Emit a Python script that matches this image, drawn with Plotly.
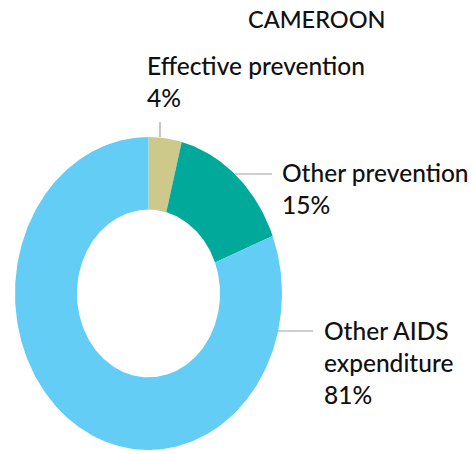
import numpy as np
import plotly.graph_objects as go

# Share of AIDS spending, Cameroon
country = "CAMEROON"
categories = ["Effective prevention", "Other prevention", "Other AIDS expenditure"]
label_text = ["Effective prevention", "Other prevention", "Other AIDS<br>expenditure"]
values = [4, 15, 81]
colors = ["#CDC98A", "#00A99A", "#64CDF6"]

W, H = 471, 454
# ellipse centre and radii in pixels; axes are scaled so the unit circle fills it
CX, CY, RX, RY = 148.5, 293.5, 133.5, 156.5
HOLE = 0.536

fig = go.Figure()

total = float(sum(values))
start = 0.0
for name, v, c in zip(categories, values, colors):
    frac0, frac1 = start / total, (start + v) / total
    n = max(int(400 * (frac1 - frac0)), 8)
    t = np.linspace(frac0, frac1, n) * 2 * np.pi
    xo, yo = np.sin(t), np.cos(t)
    xs = np.concatenate([xo, HOLE * xo[::-1], [xo[0]]])
    ys = np.concatenate([yo, HOLE * yo[::-1], [yo[0]]])
    fig.add_trace(go.Scatter(
        x=xs, y=ys, mode="lines", fill="toself", fillcolor=c,
        line=dict(width=0, color=c), name=name, hoverinfo="name",
        showlegend=False,
    ))
    start += v


def px(x):
    return x / W


def py(y):
    return 1 - y / H


font = dict(family="Lato", size=24.5, color="#111111", weight=500)

# title
fig.add_annotation(text=country, x=px(246), y=py(3), xref="paper", yref="paper",
                   xanchor="left", yanchor="top", showarrow=False,
                   font=dict(family="Lato", size=23.5, color="#111111", weight=500))

# slice labels
label_pos = [(145, 49), (280, 156), (322, 314)]
for txt, v, (lx, ly) in zip(label_text, values, label_pos):
    fig.add_annotation(text=f"{txt}<br>{v}%", x=px(lx), y=py(ly),
                       xref="paper", yref="paper", xanchor="left", yanchor="top",
                       align="left", showarrow=False, font=font)

# leader lines
leaders = [((160, 122), (160, 137)), ((235, 174), (272, 174)), ((278, 331), (313, 331))]
for (x0, y0), (x1, y1) in leaders:
    fig.add_shape(type="line", xref="paper", yref="paper",
                  x0=px(x0), y0=py(y0), x1=px(x1), y1=py(y1),
                  line=dict(color="#A0A0A0", width=1.2))

fig.update_xaxes(visible=False, range=[-CX / RX, (W - CX) / RX], fixedrange=True)
fig.update_yaxes(visible=False, range=[-(H - CY) / RY, CY / RY], fixedrange=True)
fig.update_layout(
    width=W, height=H, margin=dict(l=0, r=0, t=0, b=0),
    paper_bgcolor="white", plot_bgcolor="white", showlegend=False,
)

fig.write_html("out.html")
